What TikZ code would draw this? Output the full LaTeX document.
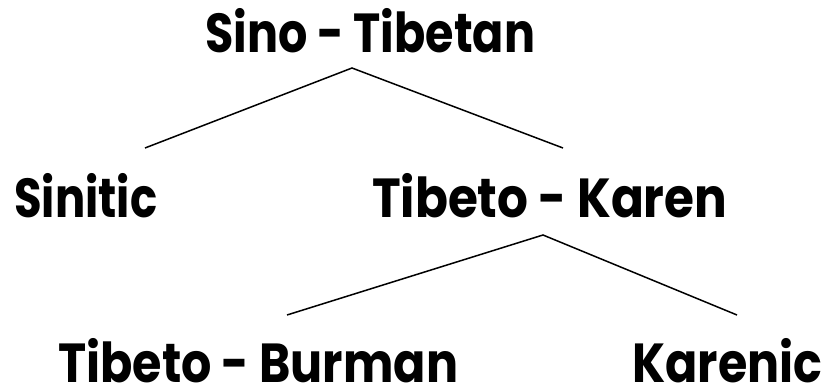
\documentclass[tikz,border=0pt]{standalone}
\usepackage{fontspec}
\setmainfont{Poppins}[BoldFont={* Bold}]
\newcommand\fitw[2]{\resizebox{#1}{\height}{#2}}
\begin{document}
\begin{tikzpicture}[x=1pt,y=-1pt,
  lbl/.style={anchor=base west,inner sep=0pt,font=\fontsize{55}{60}\selectfont\bfseries},
  edge/.style={line width=1.5pt,black}]
\useasboundingbox (0,0) rectangle (828,388);
\node[lbl] (st) at (205,52) {\fitw{330pt}{Sino - Tibetan}};
\node[lbl] (sin) at (14,217) {\fitw{143pt}{Sinitic}};
\node[lbl] (tk) at (372,217) {\fitw{355pt}{Tibeto - Karen}};
\node[lbl] (tb) at (58,382) {\fitw{400pt}{Tibeto - Burman}};
\node[lbl] (kar) at (632,382) {\fitw{190pt}{Karenic}};
\coordinate (a1) at (352,68);
\coordinate (l1) at (145,148);
\coordinate (r1) at (563,148);
\coordinate (a2) at (543,235);
\coordinate (l2) at (287,315);
\coordinate (r2) at (737,315);
\draw[edge] (l1) -- (a1) -- (r1);
\draw[edge] (l2) -- (a2) -- (r2);
\end{tikzpicture}
\end{document}
